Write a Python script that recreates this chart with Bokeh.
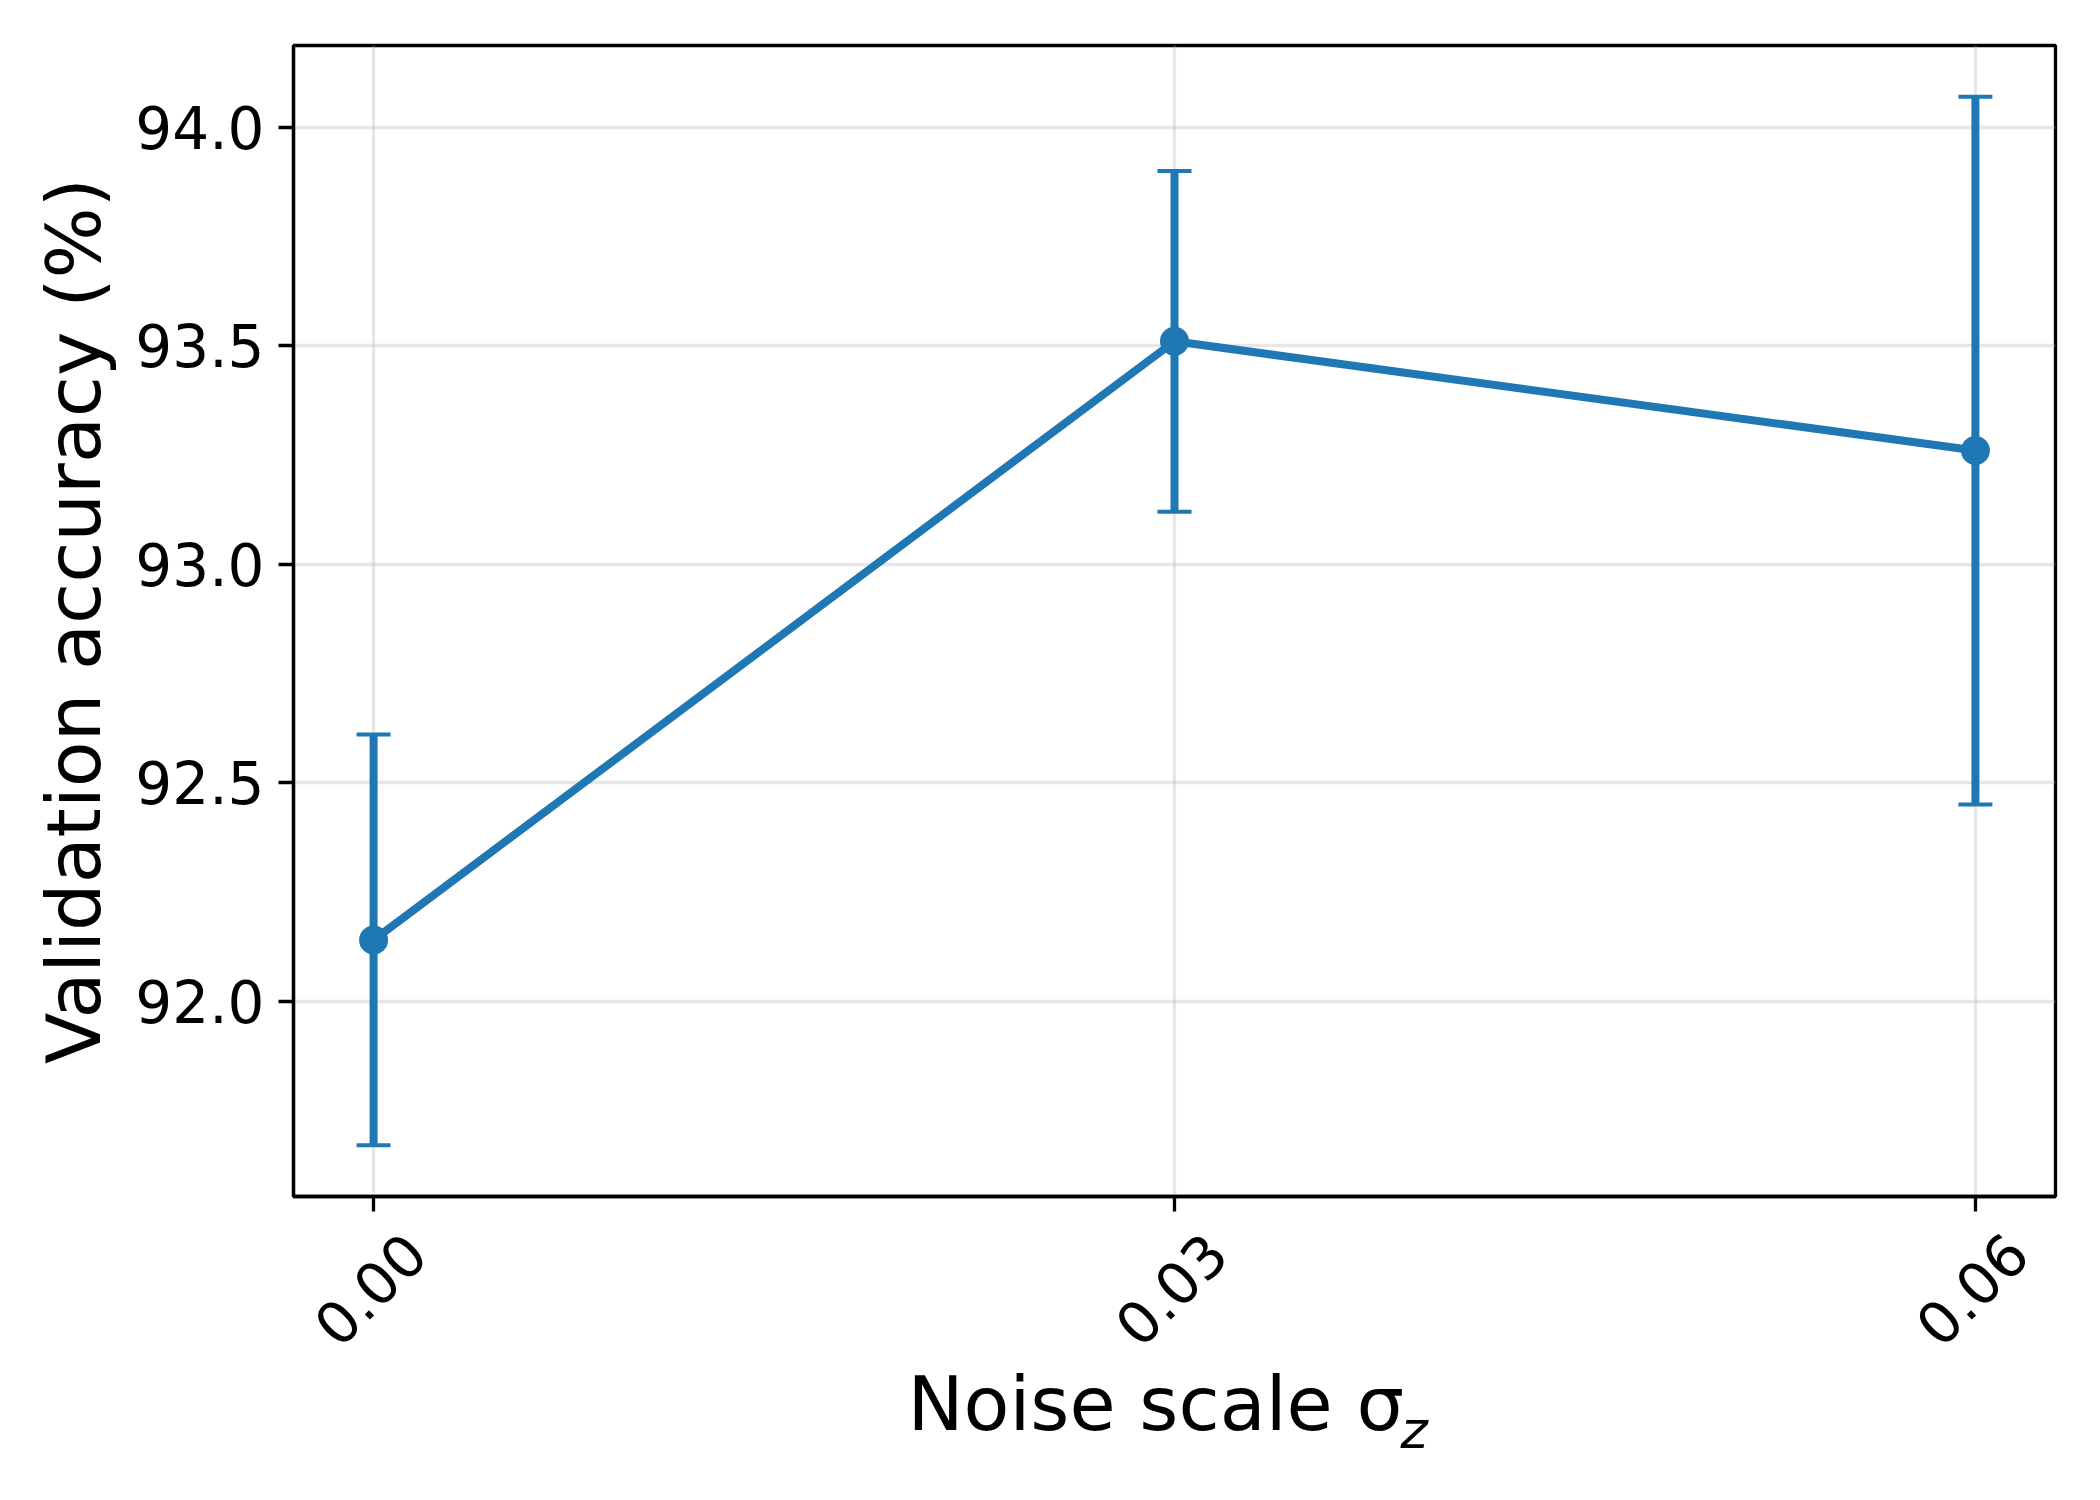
import math
from bokeh.plotting import figure
from bokeh.models import Range1d, FixedTicker, Whisker, TeeHead, ColumnDataSource, LinearAxis, Title
from bokeh.embed import file_html
from bokeh.resources import INLINE

# ---- data ----
noise = [0.00, 0.03, 0.06]
noise_labels = ["0.00", "0.03", "0.06"]
acc = [92.14, 93.51, 93.26]
err = [0.47, 0.39, 0.81]
y_ticks = [92.0, 92.5, 93.0, 93.5, 94.0]
y_tick_labels = ["92.0", "92.5", "93.0", "93.5", "94.0"]

BLUE = "#1f77b4"
FONT = "DejaVu Sans"

X0, X1 = -0.003, 0.063
Y0, Y1 = 91.553, 94.187

src = ColumnDataSource(dict(
    x=noise, y=acc,
    upper=[a + e for a, e in zip(acc, err)],
    lower=[a - e for a, e in zip(acc, err)],
))

p = figure(width=2085, height=1480, output_backend="svg", toolbar_location=None,
           x_range=Range1d(X0, X1), y_range=Range1d(Y0, Y1),
           min_border_left=293, min_border_right=30, min_border_top=45,
           min_border_bottom=284)
p.background_fill_color = "white"
p.border_fill_color = "white"
p.outline_line_color = "black"
p.outline_line_width = 3.3

# grid
p.grid.grid_line_color = "#b0b0b0"
p.grid.grid_line_alpha = 0.3
p.grid.grid_line_width = 3.3

# axes
for ax in (p.xaxis, p.yaxis):
    ax.axis_line_color = "black"
    ax.axis_line_width = 3.3
    ax.major_tick_line_color = "black"
    ax.major_tick_line_width = 3.3
    ax.major_tick_out = 15
    ax.major_tick_in = 0
    ax.minor_tick_line_color = None

# main x axis: tick marks only
p.xaxis.ticker = FixedTicker(ticks=noise)
p.xaxis.major_label_overrides = {v: "" for v in noise}
p.xaxis.major_label_text_font_size = "1px"
p.xaxis.major_label_standoff = 0

p.yaxis.ticker = FixedTicker(ticks=y_ticks)
p.yaxis.major_label_overrides = dict(zip(y_ticks, y_tick_labels))
p.yaxis.major_label_text_font = FONT
p.yaxis.major_label_text_font_size = "58px"
p.yaxis.major_label_text_color = "black"
p.yaxis.major_label_standoff = 14
p.yaxis.axis_label = "Validation accuracy (%)"
p.yaxis.axis_label_text_font = FONT
p.yaxis.axis_label_text_font_size = "75px"
p.yaxis.axis_label_text_font_style = "normal"
p.yaxis.axis_label_text_color = "black"
p.yaxis.axis_label_standoff = 14

# label axis: same scale shifted a few pixels so rotated labels sit centred under ticks
frame_px = 1762.0
dx = 42.0 * (X1 - X0) / frame_px
p.extra_x_ranges = {"xlab": Range1d(X0 - dx, X1 - dx)}
lab_ax = LinearAxis(x_range_name="xlab", ticker=FixedTicker(ticks=noise),
                    major_label_overrides=dict(zip(noise, noise_labels)),
                    major_label_orientation=math.pi / 4,
                    axis_line_color=None, major_tick_line_color=None,
                    minor_tick_line_color=None, major_tick_out=0, major_tick_in=0,
                    major_label_standoff=32,
                    major_label_text_font=FONT, major_label_text_font_size="58px",
                    major_label_text_color="black",
                    axis_label="Noise scale σ\u2002",
                    axis_label_text_font=FONT, axis_label_text_font_size="75px",
                    axis_label_text_font_style="normal", axis_label_text_color="black",
                    axis_label_standoff=-8)
p.add_layout(lab_ax, "below")

# subscript z of sigma
p.add_layout(Title(text="z", align="left", vertical_align="top", offset=1107, standoff=-104,
                   text_font=FONT, text_font_size="52px", text_font_style="italic",
                   text_color="black"), "below")

# error bars
wh = Whisker(source=src, base="x", upper="upper", lower="lower", dimension="height",
             line_color=BLUE, line_width=8, level="glyph",
             upper_head=TeeHead(size=34, line_color=BLUE, line_width=4),
             lower_head=TeeHead(size=34, line_color=BLUE, line_width=4))
p.add_layout(wh)

# line + markers
p.line("x", "y", source=src, line_color=BLUE, line_width=8)
p.scatter("x", "y", source=src, size=29, fill_color=BLUE, line_color=BLUE, line_width=0)

open("out.html", "w").write(file_html(p, INLINE))
